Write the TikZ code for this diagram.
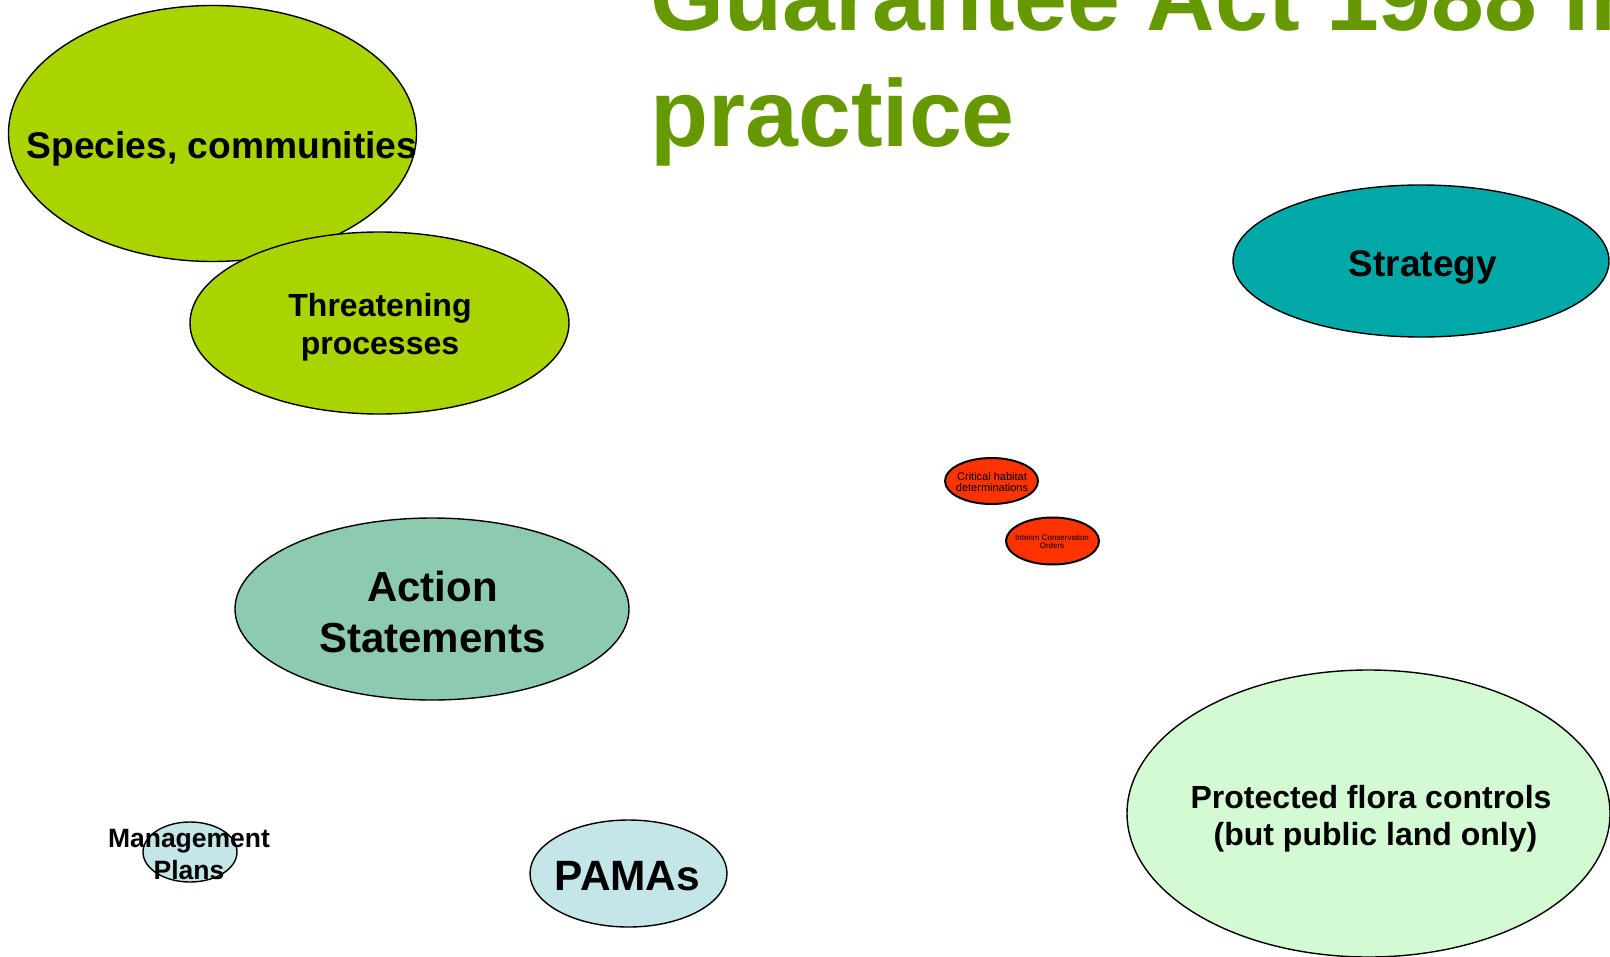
\documentclass[tikz,border=0pt]{standalone}
\usepackage{fontspec}
\setmainfont{Liberation Sans}
\usepackage{xcolor}
\usetikzlibrary{shapes.geometric}

\definecolor{titlegreen}{HTML}{669900}
\definecolor{limefill}{HTML}{AAD400}
\definecolor{tealfill}{HTML}{00A8A8}
\definecolor{seafill}{HTML}{8CCBB0}
\definecolor{icefill}{HTML}{C4E6E8}
\definecolor{mintfill}{HTML}{D4FAD4}
\definecolor{redfill}{HTML}{FF3300}

\begin{document}
\begin{tikzpicture}[x=0.5pt, y=-0.5pt,
    blob/.style={draw=black, ellipse, line width=0.7pt, inner sep=0pt},
    redblob/.style={blob, line width=1pt, fill=redfill,
      minimum width=46.5pt},
    lbl/.style={inner sep=0pt, align=center, text=black},
    heading/.style={inner sep=0pt, align=left, text=titlegreen,
      font=\bfseries\fontsize{47.5}{58}\selectfont}
]
\useasboundingbox (0,0) rectangle (1610,957);
\clip (0,0) rectangle (1610,957);

% --- Titulo ---
\node[heading, anchor=north west] (title) at (650,-39)
      {Guarantee Act 1988 in\\practice};

% --- Listados ---
\node[blob, fill=limefill, minimum width=204pt, minimum height=128pt]
      (species) at (212.5,133.5) {};
\node[lbl, anchor=base, font=\bfseries\fontsize{18.6}{20}\selectfont]
      (species-txt) at (222,159) {Species, communities};
\node[blob, fill=limefill, minimum width=189.5pt, minimum height=91pt]
      (threat) at (379.5,323) {};
\node[lbl, font=\bfseries\fontsize{16}{19}\selectfont]
      (threat-txt) at (380,327.5) {Threatening\\processes};

% --- Estrategia ---
\node[blob, fill=tealfill, minimum width=188pt, minimum height=76pt]
      (strategy) at (1421,261) {};
\node[lbl, anchor=base, font=\bfseries\fontsize{18.5}{20}\selectfont]
      (strategy-txt) at (1423,276) {Strategy};

% --- Herramientas pequenas ---
\node[redblob, minimum height=23pt] (habitat) at (991.5,481) {};
\node[lbl, font=\fontsize{5.5}{5.5}\selectfont]
      (habitat-txt) at (992,482) {Critical habitat\\determinations};
\node[redblob, minimum height=23.5pt] (interim) at (1052.5,541) {};
\node[lbl, font=\fontsize{4}{4}\selectfont]
      (interim-txt) at (1052,541.5) {Interim Conservation\\Orders};

% --- Action Statements ---
\node[blob, fill=seafill, minimum width=197pt, minimum height=91pt]
      (action) at (432,609) {};
\node[lbl, font=\bfseries\fontsize{21}{25.5}\selectfont]
      (action-txt) at (432.5,612) {Action\\Statements};

% --- Planes ---
\node[blob, fill=icefill, minimum width=47pt, minimum height=30pt]
      (mgmt) at (190,852) {};
\node[lbl, font=\bfseries\fontsize{13.25}{16}\selectfont]
      (mgmt-txt) at (189,855) {Management\\Plans};
\node[blob, fill=icefill, minimum width=98.5pt, minimum height=53.5pt]
      (pamas) at (628.5,873.5) {};
\node[lbl, anchor=base, font=\bfseries\fontsize{21.2}{22}\selectfont]
      (pamas-txt) at (627.5,890) {PAMAs};

% --- Flora protegida ---
\node[blob, fill=mintfill, minimum width=241.5pt, minimum height=143.5pt]
      (flora) at (1368.5,813.5) {};
\node[lbl, font=\bfseries\fontsize{16}{18.5}\selectfont]
      (flora-txt) at (1371,819) {Protected flora controls\\\ (but public land only)};
\end{tikzpicture}
\end{document}
